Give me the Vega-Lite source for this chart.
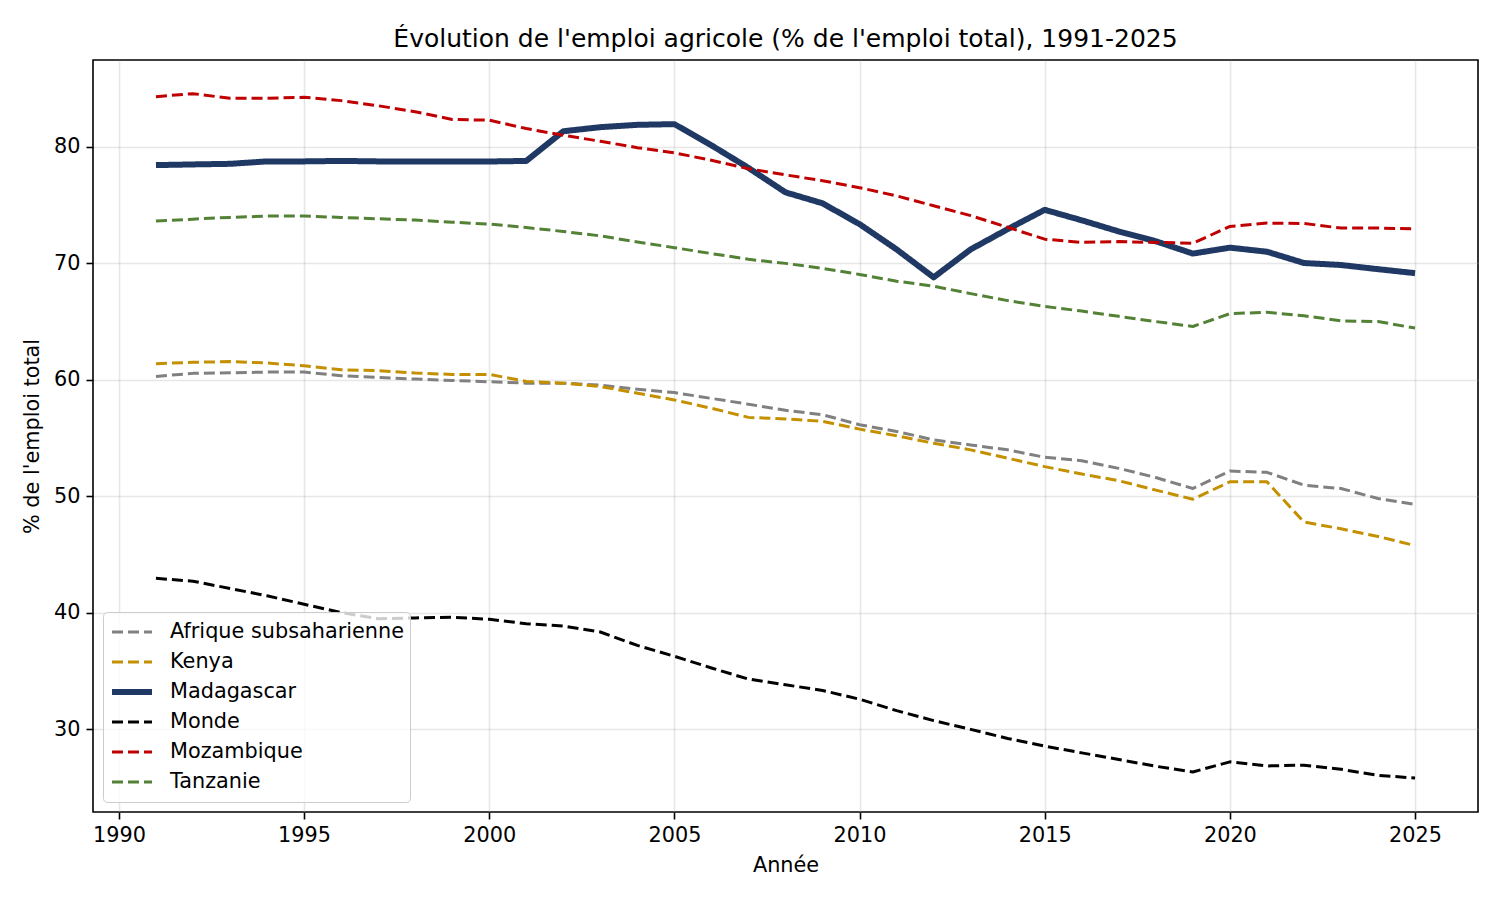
{
  "$schema": "https://vega.github.io/schema/vega-lite/v6.json",
  "description": "Evolution de l'emploi agricole (% de l'emploi total), 1991-2025",
  "width": 1385,
  "height": 752,
  "autosize": {"type": "none"},
  "padding": {"left": 93, "top": 60, "right": 22, "bottom": 88},
  "title": {
    "text": "Évolution de l'emploi agricole (% de l'emploi total), 1991-2025",
    "fontSize": 25,
    "fontWeight": "normal",
    "font": "DejaVu Sans",
    "color": "#000000",
    "anchor": "middle",
    "offset": 8
  },
  "config": {
    "font": "DejaVu Sans",
    "view": {"stroke": "#000000", "strokeWidth": 1.6},
    "axis": {
      "domain": false,
      "labelFont": "DejaVu Sans",
      "labelFontSize": 20.8,
      "labelColor": "#000000",
      "titleFont": "DejaVu Sans",
      "titleFontSize": 20.8,
      "titleFontWeight": "normal",
      "titleColor": "#000000",
      "tickColor": "#000000",
      "tickSize": 7,
      "tickWidth": 1.6,
      "labelPadding": 6,
      "gridColor": "#b0b0b0",
      "gridOpacity": 0.3,
      "gridWidth": 1.6
    },
    "legend": {
      "labelFont": "DejaVu Sans",
      "labelFontSize": 20.8,
      "labelColor": "#000000"
    }
  },
  "data": {
    "values": [
      {"pays": "Afrique subsaharienne", "annee": 1991, "valeur": 60.29},
      {"pays": "Afrique subsaharienne", "annee": 1992, "valeur": 60.55},
      {"pays": "Afrique subsaharienne", "annee": 1993, "valeur": 60.6},
      {"pays": "Afrique subsaharienne", "annee": 1994, "valeur": 60.66},
      {"pays": "Afrique subsaharienne", "annee": 1995, "valeur": 60.66},
      {"pays": "Afrique subsaharienne", "annee": 1996, "valeur": 60.35},
      {"pays": "Afrique subsaharienne", "annee": 1997, "valeur": 60.2},
      {"pays": "Afrique subsaharienne", "annee": 1998, "valeur": 60.06},
      {"pays": "Afrique subsaharienne", "annee": 1999, "valeur": 59.94},
      {"pays": "Afrique subsaharienne", "annee": 2000, "valeur": 59.83},
      {"pays": "Afrique subsaharienne", "annee": 2001, "valeur": 59.71},
      {"pays": "Afrique subsaharienne", "annee": 2002, "valeur": 59.71},
      {"pays": "Afrique subsaharienne", "annee": 2003, "valeur": 59.54},
      {"pays": "Afrique subsaharienne", "annee": 2004, "valeur": 59.19},
      {"pays": "Afrique subsaharienne", "annee": 2005, "valeur": 58.9},
      {"pays": "Afrique subsaharienne", "annee": 2006, "valeur": 58.4},
      {"pays": "Afrique subsaharienne", "annee": 2007, "valeur": 57.9},
      {"pays": "Afrique subsaharienne", "annee": 2008, "valeur": 57.38},
      {"pays": "Afrique subsaharienne", "annee": 2009, "valeur": 57.0},
      {"pays": "Afrique subsaharienne", "annee": 2010, "valeur": 56.14},
      {"pays": "Afrique subsaharienne", "annee": 2011, "valeur": 55.56},
      {"pays": "Afrique subsaharienne", "annee": 2012, "valeur": 54.84},
      {"pays": "Afrique subsaharienne", "annee": 2013, "valeur": 54.4},
      {"pays": "Afrique subsaharienne", "annee": 2014, "valeur": 53.98},
      {"pays": "Afrique subsaharienne", "annee": 2015, "valeur": 53.34},
      {"pays": "Afrique subsaharienne", "annee": 2016, "valeur": 53.05},
      {"pays": "Afrique subsaharienne", "annee": 2017, "valeur": 52.39},
      {"pays": "Afrique subsaharienne", "annee": 2018, "valeur": 51.6},
      {"pays": "Afrique subsaharienne", "annee": 2019, "valeur": 50.66},
      {"pays": "Afrique subsaharienne", "annee": 2020, "valeur": 52.16},
      {"pays": "Afrique subsaharienne", "annee": 2021, "valeur": 52.05},
      {"pays": "Afrique subsaharienne", "annee": 2022, "valeur": 50.95},
      {"pays": "Afrique subsaharienne", "annee": 2023, "valeur": 50.66},
      {"pays": "Afrique subsaharienne", "annee": 2024, "valeur": 49.8},
      {"pays": "Afrique subsaharienne", "annee": 2025, "valeur": 49.3},
      {"pays": "Kenya", "annee": 1991, "valeur": 61.38},
      {"pays": "Kenya", "annee": 1992, "valeur": 61.5},
      {"pays": "Kenya", "annee": 1993, "valeur": 61.56},
      {"pays": "Kenya", "annee": 1994, "valeur": 61.44},
      {"pays": "Kenya", "annee": 1995, "valeur": 61.2},
      {"pays": "Kenya", "annee": 1996, "valeur": 60.86},
      {"pays": "Kenya", "annee": 1997, "valeur": 60.78},
      {"pays": "Kenya", "annee": 1998, "valeur": 60.58},
      {"pays": "Kenya", "annee": 1999, "valeur": 60.46},
      {"pays": "Kenya", "annee": 2000, "valeur": 60.46},
      {"pays": "Kenya", "annee": 2001, "valeur": 59.86},
      {"pays": "Kenya", "annee": 2002, "valeur": 59.71},
      {"pays": "Kenya", "annee": 2003, "valeur": 59.42},
      {"pays": "Kenya", "annee": 2004, "valeur": 58.85},
      {"pays": "Kenya", "annee": 2005, "valeur": 58.27},
      {"pays": "Kenya", "annee": 2006, "valeur": 57.55},
      {"pays": "Kenya", "annee": 2007, "valeur": 56.77},
      {"pays": "Kenya", "annee": 2008, "valeur": 56.63},
      {"pays": "Kenya", "annee": 2009, "valeur": 56.43},
      {"pays": "Kenya", "annee": 2010, "valeur": 55.76},
      {"pays": "Kenya", "annee": 2011, "valeur": 55.19},
      {"pays": "Kenya", "annee": 2012, "valeur": 54.55},
      {"pays": "Kenya", "annee": 2013, "valeur": 53.98},
      {"pays": "Kenya", "annee": 2014, "valeur": 53.26},
      {"pays": "Kenya", "annee": 2015, "valeur": 52.54},
      {"pays": "Kenya", "annee": 2016, "valeur": 51.9},
      {"pays": "Kenya", "annee": 2017, "valeur": 51.33},
      {"pays": "Kenya", "annee": 2018, "valeur": 50.52},
      {"pays": "Kenya", "annee": 2019, "valeur": 49.74},
      {"pays": "Kenya", "annee": 2020, "valeur": 51.24},
      {"pays": "Kenya", "annee": 2021, "valeur": 51.24},
      {"pays": "Kenya", "annee": 2022, "valeur": 47.78},
      {"pays": "Kenya", "annee": 2023, "valeur": 47.2},
      {"pays": "Kenya", "annee": 2024, "valeur": 46.54},
      {"pays": "Kenya", "annee": 2025, "valeur": 45.76},
      {"pays": "Madagascar", "annee": 1991, "valeur": 78.44},
      {"pays": "Madagascar", "annee": 1992, "valeur": 78.5},
      {"pays": "Madagascar", "annee": 1993, "valeur": 78.55},
      {"pays": "Madagascar", "annee": 1994, "valeur": 78.76},
      {"pays": "Madagascar", "annee": 1995, "valeur": 78.76},
      {"pays": "Madagascar", "annee": 1996, "valeur": 78.8},
      {"pays": "Madagascar", "annee": 1997, "valeur": 78.76},
      {"pays": "Madagascar", "annee": 1998, "valeur": 78.75},
      {"pays": "Madagascar", "annee": 1999, "valeur": 78.75},
      {"pays": "Madagascar", "annee": 2000, "valeur": 78.75},
      {"pays": "Madagascar", "annee": 2001, "valeur": 78.8},
      {"pays": "Madagascar", "annee": 2002, "valeur": 81.35},
      {"pays": "Madagascar", "annee": 2003, "valeur": 81.7},
      {"pays": "Madagascar", "annee": 2004, "valeur": 81.9},
      {"pays": "Madagascar", "annee": 2005, "valeur": 81.96},
      {"pays": "Madagascar", "annee": 2006, "valeur": 80.14},
      {"pays": "Madagascar", "annee": 2007, "valeur": 78.2},
      {"pays": "Madagascar", "annee": 2008, "valeur": 76.1},
      {"pays": "Madagascar", "annee": 2009, "valeur": 75.16},
      {"pays": "Madagascar", "annee": 2010, "valeur": 73.37},
      {"pays": "Madagascar", "annee": 2011, "valeur": 71.2},
      {"pays": "Madagascar", "annee": 2012, "valeur": 68.8},
      {"pays": "Madagascar", "annee": 2013, "valeur": 71.2},
      {"pays": "Madagascar", "annee": 2014, "valeur": 72.94},
      {"pays": "Madagascar", "annee": 2015, "valeur": 74.6},
      {"pays": "Madagascar", "annee": 2016, "valeur": 73.7},
      {"pays": "Madagascar", "annee": 2017, "valeur": 72.74},
      {"pays": "Madagascar", "annee": 2018, "valeur": 71.9},
      {"pays": "Madagascar", "annee": 2019, "valeur": 70.84},
      {"pays": "Madagascar", "annee": 2020, "valeur": 71.35},
      {"pays": "Madagascar", "annee": 2021, "valeur": 71.0},
      {"pays": "Madagascar", "annee": 2022, "valeur": 70.03},
      {"pays": "Madagascar", "annee": 2023, "valeur": 69.86},
      {"pays": "Madagascar", "annee": 2024, "valeur": 69.5},
      {"pays": "Madagascar", "annee": 2025, "valeur": 69.16},
      {"pays": "Monde", "annee": 1991, "valeur": 42.94},
      {"pays": "Monde", "annee": 1992, "valeur": 42.7},
      {"pays": "Monde", "annee": 1993, "valeur": 42.07},
      {"pays": "Monde", "annee": 1994, "valeur": 41.44},
      {"pays": "Monde", "annee": 1995, "valeur": 40.72},
      {"pays": "Monde", "annee": 1996, "valeur": 40.0},
      {"pays": "Monde", "annee": 1997, "valeur": 39.48},
      {"pays": "Monde", "annee": 1998, "valeur": 39.54},
      {"pays": "Monde", "annee": 1999, "valeur": 39.6},
      {"pays": "Monde", "annee": 2000, "valeur": 39.42},
      {"pays": "Monde", "annee": 2001, "valeur": 39.05},
      {"pays": "Monde", "annee": 2002, "valeur": 38.85},
      {"pays": "Monde", "annee": 2003, "valeur": 38.33},
      {"pays": "Monde", "annee": 2004, "valeur": 37.18},
      {"pays": "Monde", "annee": 2005, "valeur": 36.25},
      {"pays": "Monde", "annee": 2006, "valeur": 35.24},
      {"pays": "Monde", "annee": 2007, "valeur": 34.29},
      {"pays": "Monde", "annee": 2008, "valeur": 33.8},
      {"pays": "Monde", "annee": 2009, "valeur": 33.31},
      {"pays": "Monde", "annee": 2010, "valeur": 32.56},
      {"pays": "Monde", "annee": 2011, "valeur": 31.58},
      {"pays": "Monde", "annee": 2012, "valeur": 30.72},
      {"pays": "Monde", "annee": 2013, "valeur": 29.97},
      {"pays": "Monde", "annee": 2014, "valeur": 29.19},
      {"pays": "Monde", "annee": 2015, "valeur": 28.53},
      {"pays": "Monde", "annee": 2016, "valeur": 27.95},
      {"pays": "Monde", "annee": 2017, "valeur": 27.38},
      {"pays": "Monde", "annee": 2018, "valeur": 26.8},
      {"pays": "Monde", "annee": 2019, "valeur": 26.31},
      {"pays": "Monde", "annee": 2020, "valeur": 27.18},
      {"pays": "Monde", "annee": 2021, "valeur": 26.83},
      {"pays": "Monde", "annee": 2022, "valeur": 26.89},
      {"pays": "Monde", "annee": 2023, "valeur": 26.54},
      {"pays": "Monde", "annee": 2024, "valeur": 26.02},
      {"pays": "Monde", "annee": 2025, "valeur": 25.79},
      {"pays": "Mozambique", "annee": 1991, "valeur": 84.32},
      {"pays": "Mozambique", "annee": 1992, "valeur": 84.58},
      {"pays": "Mozambique", "annee": 1993, "valeur": 84.18},
      {"pays": "Mozambique", "annee": 1994, "valeur": 84.18},
      {"pays": "Mozambique", "annee": 1995, "valeur": 84.27},
      {"pays": "Mozambique", "annee": 1996, "valeur": 83.98},
      {"pays": "Mozambique", "annee": 1997, "valeur": 83.54},
      {"pays": "Mozambique", "annee": 1998, "valeur": 83.03},
      {"pays": "Mozambique", "annee": 1999, "valeur": 82.36},
      {"pays": "Mozambique", "annee": 2000, "valeur": 82.3},
      {"pays": "Mozambique", "annee": 2001, "valeur": 81.58},
      {"pays": "Mozambique", "annee": 2002, "valeur": 81.0},
      {"pays": "Mozambique", "annee": 2003, "valeur": 80.49},
      {"pays": "Mozambique", "annee": 2004, "valeur": 79.94},
      {"pays": "Mozambique", "annee": 2005, "valeur": 79.5},
      {"pays": "Mozambique", "annee": 2006, "valeur": 78.85},
      {"pays": "Mozambique", "annee": 2007, "valeur": 78.13},
      {"pays": "Mozambique", "annee": 2008, "valeur": 77.6},
      {"pays": "Mozambique", "annee": 2009, "valeur": 77.1},
      {"pays": "Mozambique", "annee": 2010, "valeur": 76.5},
      {"pays": "Mozambique", "annee": 2011, "valeur": 75.8},
      {"pays": "Mozambique", "annee": 2012, "valeur": 74.95},
      {"pays": "Mozambique", "annee": 2013, "valeur": 74.1},
      {"pays": "Mozambique", "annee": 2014, "valeur": 73.1},
      {"pays": "Mozambique", "annee": 2015, "valeur": 72.08},
      {"pays": "Mozambique", "annee": 2016, "valeur": 71.8},
      {"pays": "Mozambique", "annee": 2017, "valeur": 71.87},
      {"pays": "Mozambique", "annee": 2018, "valeur": 71.8},
      {"pays": "Mozambique", "annee": 2019, "valeur": 71.73},
      {"pays": "Mozambique", "annee": 2020, "valeur": 73.17},
      {"pays": "Mozambique", "annee": 2021, "valeur": 73.46},
      {"pays": "Mozambique", "annee": 2022, "valeur": 73.43},
      {"pays": "Mozambique", "annee": 2023, "valeur": 73.03},
      {"pays": "Mozambique", "annee": 2024, "valeur": 73.03},
      {"pays": "Mozambique", "annee": 2025, "valeur": 72.97},
      {"pays": "Tanzanie", "annee": 1991, "valeur": 73.63},
      {"pays": "Tanzanie", "annee": 1992, "valeur": 73.8},
      {"pays": "Tanzanie", "annee": 1993, "valeur": 73.95},
      {"pays": "Tanzanie", "annee": 1994, "valeur": 74.06},
      {"pays": "Tanzanie", "annee": 1995, "valeur": 74.06},
      {"pays": "Tanzanie", "annee": 1996, "valeur": 73.95},
      {"pays": "Tanzanie", "annee": 1997, "valeur": 73.83},
      {"pays": "Tanzanie", "annee": 1998, "valeur": 73.72},
      {"pays": "Tanzanie", "annee": 1999, "valeur": 73.54},
      {"pays": "Tanzanie", "annee": 2000, "valeur": 73.37},
      {"pays": "Tanzanie", "annee": 2001, "valeur": 73.08},
      {"pays": "Tanzanie", "annee": 2002, "valeur": 72.74},
      {"pays": "Tanzanie", "annee": 2003, "valeur": 72.36},
      {"pays": "Tanzanie", "annee": 2004, "valeur": 71.84},
      {"pays": "Tanzanie", "annee": 2005, "valeur": 71.35},
      {"pays": "Tanzanie", "annee": 2006, "valeur": 70.84},
      {"pays": "Tanzanie", "annee": 2007, "valeur": 70.35},
      {"pays": "Tanzanie", "annee": 2008, "valeur": 70.0},
      {"pays": "Tanzanie", "annee": 2009, "valeur": 69.57},
      {"pays": "Tanzanie", "annee": 2010, "valeur": 69.05},
      {"pays": "Tanzanie", "annee": 2011, "valeur": 68.47},
      {"pays": "Tanzanie", "annee": 2012, "valeur": 68.04},
      {"pays": "Tanzanie", "annee": 2013, "valeur": 67.4},
      {"pays": "Tanzanie", "annee": 2014, "valeur": 66.8},
      {"pays": "Tanzanie", "annee": 2015, "valeur": 66.3},
      {"pays": "Tanzanie", "annee": 2016, "valeur": 65.9},
      {"pays": "Tanzanie", "annee": 2017, "valeur": 65.45},
      {"pays": "Tanzanie", "annee": 2018, "valeur": 65.0},
      {"pays": "Tanzanie", "annee": 2019, "valeur": 64.58},
      {"pays": "Tanzanie", "annee": 2020, "valeur": 65.68},
      {"pays": "Tanzanie", "annee": 2021, "valeur": 65.8},
      {"pays": "Tanzanie", "annee": 2022, "valeur": 65.5},
      {"pays": "Tanzanie", "annee": 2023, "valeur": 65.06},
      {"pays": "Tanzanie", "annee": 2024, "valeur": 65.0},
      {"pays": "Tanzanie", "annee": 2025, "valeur": 64.44}
    ]
  },
  "mark": {"type": "line", "strokeCap": "butt", "strokeJoin": "round"},
  "encoding": {
    "x": {
      "field": "annee",
      "type": "quantitative",
      "title": "Année",
      "scale": {"domain": [1989.3, 2026.7], "nice": false, "zero": false},
      "axis": {"values": [1990, 1995, 2000, 2005, 2010, 2015, 2020, 2025], "format": "d", "titlePadding": 11}
    },
    "y": {
      "field": "valeur",
      "type": "quantitative",
      "title": "% de l'emploi total",
      "scale": {"domain": [22.87, 87.47], "nice": false, "zero": false},
      "axis": {"values": [30, 40, 50, 60, 70, 80], "titlePadding": 11}
    },
    "color": {
      "field": "pays",
      "type": "nominal",
      "scale": {
        "domain": ["Afrique subsaharienne", "Kenya", "Madagascar", "Monde", "Mozambique", "Tanzanie"],
        "range": ["#808080", "#c49000", "#1f3864", "#000000", "#c00000", "#538135"]
      },
      "legend": {
        "title": null,
        "orient": "bottom-left",
        "offset": 10,
        "symbolType": "stroke",
        "symbolSize": 1600,
        "labelOffset": 15,
        "labelLimit": 400,
        "clipHeight": 28,
        "rowPadding": 2,
        "padding": 6,
        "fillColor": "rgba(255,255,255,0.8)",
        "strokeColor": "#cccccc",
        "cornerRadius": 4
      }
    },
    "strokeDash": {
      "field": "pays",
      "type": "nominal",
      "scale": {
        "domain": ["Afrique subsaharienne", "Kenya", "Madagascar", "Monde", "Mozambique", "Tanzanie"],
        "range": [[11, 5], [11, 5], [1, 0], [11, 5], [11, 5], [11, 5]]
      },
      "legend": null
    },
    "strokeWidth": {
      "field": "pays",
      "type": "nominal",
      "scale": {
        "type": "ordinal",
        "domain": ["Afrique subsaharienne", "Kenya", "Madagascar", "Monde", "Mozambique", "Tanzanie"],
        "range": [3, 3, 6, 3, 3, 3]
      },
      "legend": null
    }
  }
}
